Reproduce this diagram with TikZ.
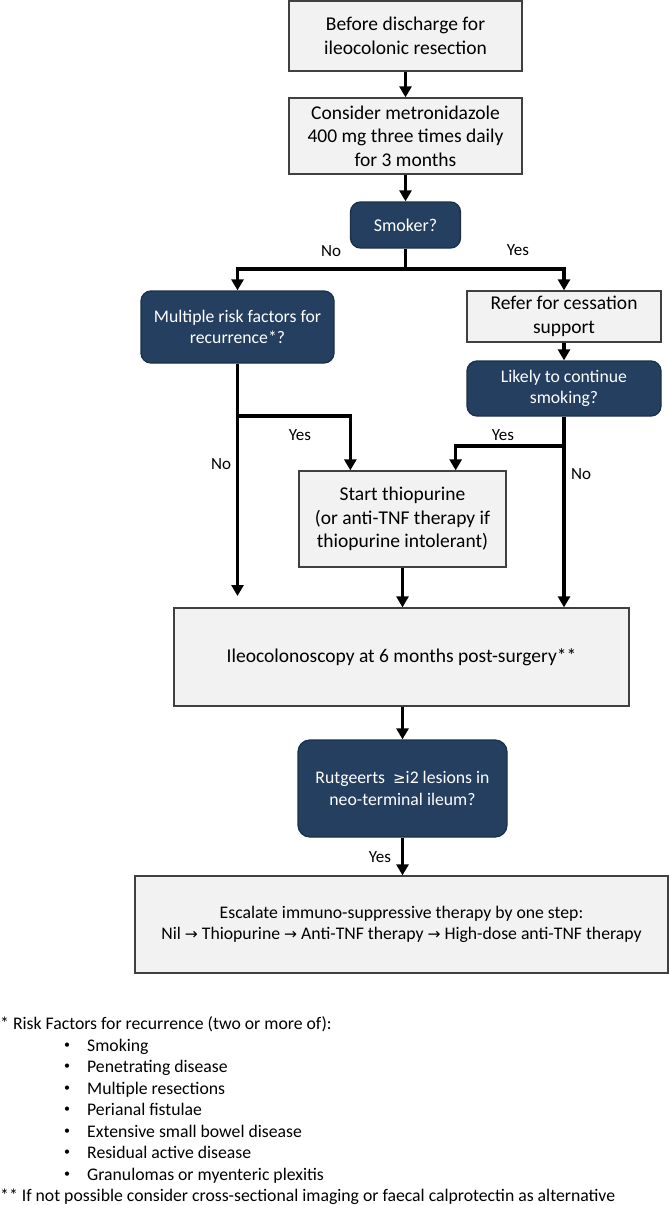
\documentclass[tikz,border=0pt]{standalone}
\usepackage{fontspec}
\setmainfont{Carlito}
\newfontfamily\symf{DejaVu Sans}
\usetikzlibrary{arrows.meta,calc}
\definecolor{boxgray}{HTML}{F2F2F2}
\definecolor{boxline}{HTML}{404040}
\definecolor{qblue}{HTML}{243F60}
\definecolor{qline}{HTML}{1B3048}
\newcommand{\fbig}{\fontsize{19.5}{23.5}\selectfont}
\newcommand{\fsmall}{\fontsize{17.7}{21.5}\selectfont}
\newcommand{\myar}{{\symf\fontsize{15.5}{21.5}\selectfont →}}
\newcommand{\mygeq}{{\symf\fontsize{15}{21.5}\selectfont ≥}}
\begin{document}
\begin{tikzpicture}[x=1pt,y=-1pt,
  gbox/.style={draw=boxline, line width=1.3pt, fill=boxgray, align=center, inner sep=0pt, text=black},
  qbox/.style={draw=qline, line width=1.3pt, fill=qblue, rounded corners=10pt, align=center, inner sep=0pt, text=white},
  arr/.style={line width=3.4pt, -{Triangle[width=12pt,length=11pt]}},
  arrboth/.style={line width=3.4pt, {Triangle[width=12pt,length=11pt]}-{Triangle[width=12pt,length=11pt]}},
  conn/.style={line width=3.4pt},
  lbl/.style={font=\fontsize{17}{20}\selectfont, inner sep=0pt, text height=12pt, text depth=3pt},
  fn/.style={font=\fsmall, inner sep=0pt, anchor=west, text height=12.5pt, text depth=3.5pt},
  bul/.style={font=\fontsize{12}{14}\selectfont, inner sep=0pt}]
\useasboundingbox (0,0) rectangle (669,1205);

% boxes
\node[gbox, font=\fbig, minimum width=233pt, minimum height=70pt] (b1) at (405.5,36) {Before discharge for\\ileocolonic resection};
\node[gbox, font=\fbig, minimum width=233pt, minimum height=76pt] (b2) at (405.5,136) {Consider metronidazole\\400 mg three times daily\\for 3 months};
\node[qbox, font=\fontsize{18}{21.5}\selectfont, minimum width=110pt, minimum height=46pt] (smk) at (405.5,225) {Smoker?};
\node[qbox, font=\fsmall, minimum width=193pt, minimum height=72pt] (mrf) at (237.5,327) {Multiple risk factors for\\recurrence*?};
\node[gbox, font=\fbig, minimum width=194pt, minimum height=51pt] (ref) at (564,316.5) {Refer for cessation\\support};
\node[qbox, font=\fsmall, minimum width=194pt, minimum height=55pt] (lik) at (564,388.5) {Likely to continue\\smoking?};
\node[gbox, font=\fbig, minimum width=207pt, minimum height=96pt] (st) at (402.5,519) {Start thiopurine\\(or anti-TNF therapy if\\thiopurine intolerant)};
\node[gbox, font=\fbig, minimum width=455pt, minimum height=98pt] (ileo) at (401.5,657) {Ileocolonoscopy at 6 months post-surgery**};
\node[qbox, rounded corners=12pt, font=\fsmall, minimum width=209pt, minimum height=97pt] (rut) at (402.5,788.5) {Rutgeerts \ \mygeq i2 lesions in\\neo-terminal ileum?};
\node[gbox, font=\fsmall, minimum width=533pt, minimum height=97pt] (esc) at (401.5,924.5) {Escalate immuno-suppressive therapy by one step:\\Nil \myar\ Thiopurine \myar\ Anti-TNF therapy \myar\ High-dose anti-TNF therapy};

% junction coordinates
\coordinate (split) at (405.5,269);
\coordinate (lj) at (237.5,416);
\coordinate (rj) at (564,446);
\coordinate (lend) at (237.5,596);

% connectors
\draw[arr] (b1) -- (b2);
\draw[arr] (b2) -- (smk);
\draw[conn] (smk.south) -- (split);
\draw[arrboth] (mrf.north) |- (split) -| (ref.north);
\draw[arr] (ref) -- (lik);
\draw[arr] (mrf.south) -- (lend);
\draw[arr] (lj) -| ($(st.north west)+(52,0)$);
\draw[arr] (lik.south) -- (lik.south |- ileo.north);
\draw[arr] (rj) -| ($(st.north east)+(-51,0)$);
\draw[arr] (st.south) -- (st.south |- ileo.north);
\draw[arr] (rut.north |- ileo.south) -- (rut.north);
\draw[arr] (rut.south) -- (rut.south |- esc.north);

% labels
\node[lbl] (lno1) at (331,252) {No};
\node[lbl] (lyes1) at (518,251) {Yes};
\node[lbl] (lyes2) at (300,436) {Yes};
\node[lbl] (lno2) at (221,465) {No};
\node[lbl] (lyes3) at (503,436) {Yes};
\node[lbl] (lno3) at (581,475) {No};
\node[lbl] (lyes4) at (380,858) {Yes};

% footnotes
\node[fn] (f0) at (0,1025) {* Risk Factors for recurrence (two or more of):};
\foreach \t [count=\i] in {Smoking,Penetrating disease,Multiple resections,Perianal fistulae,Extensive small bowel disease,Residual active disease,Granulomas or myenteric plexitis}{
  \node[bul] (fb\i) at (67,{1024+21.5*\i}) {•};
  \node[fn] (ft\i) at (87,{1025+21.5*\i}) {\t};
}
\node[fn] (f2) at (0,1197) {** If not possible consider cross-sectional imaging or faecal calprotectin as alternative};
\end{tikzpicture}
\end{document}
